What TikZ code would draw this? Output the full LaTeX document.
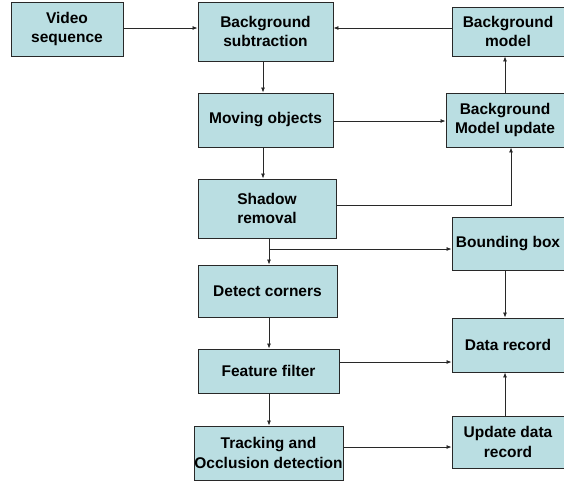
\documentclass[tikz,border=0pt]{standalone}
\usepackage{fontspec}
\setmainfont{Liberation Sans}
\usetikzlibrary{arrows.meta}
\definecolor{boxfill}{RGB}{186,222,226}
\definecolor{linec}{RGB}{40,40,40}
\tikzset{
  blk/.style={draw=linec, line width=0.9pt, fill=boxfill, inner sep=0pt, align=center,
    font=\fontsize{15.5}{19.5}\selectfont\bfseries},
  arr/.style={draw=linec, line width=0.8pt, -{Latex[length=5pt,width=4pt]}}
}
\begin{document}
\begin{tikzpicture}[x=1pt,y=-1pt]
\useasboundingbox (0,0) rectangle (564,482);
\fill[white] (0,0) rectangle (564,482);
\node[blk, minimum width=112pt, minimum height=54pt] (vid) at (67,29) {Video\\sequence};
\node[blk, minimum width=135pt, minimum height=59pt] (bs) at (265.5,31.5) {Background\\subtraction};
\node[blk, minimum width=135pt, minimum height=54pt] (mo) at (265.5,120) {Moving objects};
\node[blk, minimum width=138pt, minimum height=59pt] (sr) at (267,208.5) {Shadow\\removal};
\node[blk, minimum width=139pt, minimum height=52pt] (dc) at (267.5,291) {Detect corners};
\node[blk, minimum width=141pt, minimum height=44pt] (ff) at (268.5,371) {Feature filter};
\node[blk, minimum width=149pt, minimum height=54pt] (tr) at (268.5,453) {Tracking and\\Occlusion detection};
\node[blk, minimum width=112pt, minimum height=49pt] (bm) at (508,31.5) {Background\\model};
\node[blk, minimum width=118pt, minimum height=54pt] (bmu) at (505,120) {Background\\Model update};
\node[blk, minimum width=112pt, minimum height=53pt] (bb) at (508,243.5) {Bounding box};
\node[blk, minimum width=112pt, minimum height=54pt] (dr) at (508,345) {Data record};
\node[blk, minimum width=112pt, minimum height=52pt] (udr) at (508,442) {Update data\\record};

\coordinate (v1) at (123,28);
\draw[arr] (v1) -- (v1 -| bs.west);
\coordinate (m1) at (452,28);
\draw[arr] (m1) -- (m1 -| bs.east);
\coordinate (a1) at (263,61);
\draw[arr] (a1) -- (a1 |- mo.north);
\coordinate (a2) at (333,121);
\draw[arr] (a2) -- (a2 -| bmu.west);
\coordinate (a3) at (505,93);
\draw[arr] (a3) -- (a3 |- bm.south);
\coordinate (a4) at (263,147);
\draw[arr] (a4) -- (a4 |- sr.north);
\coordinate (a5) at (336,205);
\coordinate (a5b) at (511,205);
\draw[arr] (a5) -- (a5b) -- (a5b |- bmu.south);
\coordinate (a6) at (269,238);
\draw[arr] (a6) -- (a6 |- dc.north);
\coordinate (a7) at (269,249);
\draw[arr] (a7) -- (a7 -| bb.west);
\coordinate (a8) at (269,317);
\draw[arr] (a8) -- (a8 |- ff.north);
\coordinate (a9) at (339,362);
\draw[arr] (a9) -- (a9 -| dr.west);
\coordinate (a10) at (269,393);
\draw[arr] (a10) -- (a10 |- tr.north);
\coordinate (a11) at (343,447);
\draw[arr] (a11) -- (a11 -| udr.west);
\coordinate (a12) at (505,270);
\draw[arr] (a12) -- (a12 |- dr.north);
\coordinate (a13) at (505,416);
\draw[arr] (a13) -- (a13 |- dr.south);
\end{tikzpicture}
\end{document}
